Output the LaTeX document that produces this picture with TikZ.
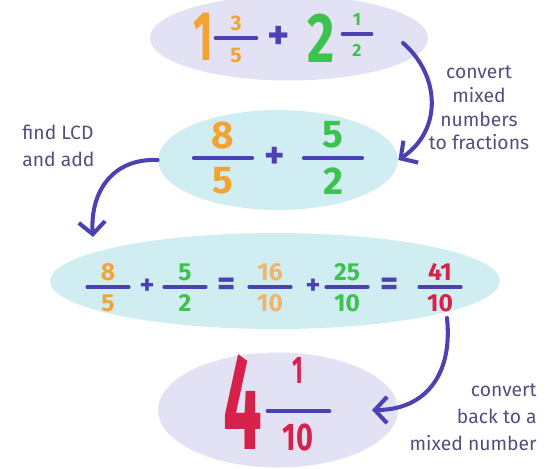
\documentclass[tikz,border=0pt]{standalone}
\usepackage{fontspec}
\setmainfont{Fira Sans}
\usepackage{graphicx}
\usetikzlibrary{arrows.meta,positioning,shapes.geometric}
\definecolor{lav}{HTML}{E3E1F4}
\definecolor{aqua}{HTML}{D0EDF1}
\definecolor{orng}{HTML}{F6A233}
\definecolor{grn}{HTML}{3DC24F}
\definecolor{pale}{HTML}{EFB56A}
\definecolor{crim}{HTML}{D6214B}
\definecolor{ink}{HTML}{4B41B3}
\definecolor{notec}{HTML}{574D7D}

\begin{document}
\begin{tikzpicture}[
  x=0.02cm, y=-0.02cm,
  blob/.style={ellipse, inner sep=0pt},
  dig/.style={inner sep=0pt},
  bar/.style={draw=ink, line cap=round},
  conn/.style={draw=ink, line width=2.3pt, line cap=round, -{Straight Barb[length=7pt,width=15pt]}},
  note/.style={text=notec, inner sep=0pt, font=\fontsize{11}{15.5}\selectfont}
]
  \useasboundingbox (0,0) rectangle (550,468);

  % bubbles
  \node[blob, fill=lav, minimum width=5.56cm, minimum height=1.7cm] (top) at (289,38) {};
  \node[blob, fill=aqua, minimum width=4.8cm, minimum height=2cm] (mid) at (278,160) {};
  \node[blob, fill=aqua, minimum width=9cm, minimum height=1.92cm] (row) at (275,281) {};
  \node[blob, fill=lav, minimum width=4.8cm, minimum height=2.3cm] (res) at (278,410) {};

  % 1 3/5 + 2 1/2
  \node[dig, text=orng, font=\bfseries\fontsize{40}{40}\selectfont] (one) at (203,37) {\scalebox{.6}[1]{1}};
  \node[dig, text=orng, font=\bfseries\fontsize{12}{12}\selectfont] (three) at (236,23) {3};
  \node[dig, text=orng, font=\bfseries\fontsize{12}{12}\selectfont] (five) at (236,56) {5};
  \draw[bar, line width=2.8pt] (216,38) -- (256,38);
  \node[dig, text=ink, font=\bfseries\fontsize{24}{24}\selectfont] (plusa) at (279,38) {+};
  \node[dig, text=grn, font=\bfseries\fontsize{40}{40}\selectfont] (two) at (321,38) {\scalebox{.75}[1]{2}};
  \node[dig, text=grn, font=\bfseries\fontsize{10}{10}\selectfont] (half) at (357,20) {1};
  \node[dig, text=grn, font=\bfseries\fontsize{10}{10}\selectfont] (halfd) at (357,50) {2};
  \draw[bar, line width=2.8pt] (343,34) -- (371,34);

  % 8/5 + 5/2
  \node[dig, text=orng, font=\bfseries\fontsize{22}{22}\selectfont] (eight) at (223,135) {8};
  \node[dig, text=orng, font=\bfseries\fontsize{22}{22}\selectfont] (fiveb) at (223,181) {5};
  \draw[bar, line width=2.4pt] (194,158) -- (252,158);
  \node[dig, text=ink, font=\bfseries\fontsize{22}{22}\selectfont] (plusb) at (275,158) {+};
  \node[dig, text=grn, font=\bfseries\fontsize{22}{22}\selectfont] (fivec) at (333,135) {5};
  \node[dig, text=grn, font=\bfseries\fontsize{22}{22}\selectfont] (twob) at (333,181) {2};
  \draw[bar, line width=2.4pt] (304,158) -- (362,158);

  % 8/5 + 5/2 = 16/10 + 25/10 = 41/10
  \foreach \x/\n/\d/\c/\k in {108/8/5/orng/a, 185/5/2/grn/b, 270/16/10/pale/c, 347/25/10/grn/d, 440/41/10/crim/e}{
    \node[dig, text=\c, font=\bfseries\fontsize{14}{14}\selectfont] (n\k) at (\x,272) {\n};
    \node[dig, text=\c, font=\bfseries\fontsize{14}{14}\selectfont] (d\k) at (\x,303) {\d};
    \draw[bar, line width=1.8pt] (\x-21,287) -- (\x+21,287);
  }
  \node[dig, text=ink, font=\bfseries\fontsize{16}{16}\selectfont] (op1) at (147,287) {+};
  \node[dig, text=ink, font=\bfseries\fontsize{20}{20}\selectfont] (op2) at (227,287) {=};
  \node[dig, text=ink, font=\bfseries\fontsize{16}{16}\selectfont] (op3) at (313,287) {+};
  \node[dig, text=ink, font=\bfseries\fontsize{20}{20}\selectfont] (op4) at (390,287) {=};

  % 4 1/10
  \node[dig, text=crim, font=\bfseries\fontsize{78}{78}\selectfont] (four) at (243,402) {\scalebox{.5}[1]{4}};
  \node[dig, text=crim, font=\bfseries\fontsize{22}{22}\selectfont] (onec) at (298,370) {\scalebox{.6}[1]{1}};
  \node[dig, text=crim, font=\bfseries\fontsize{22}{22}\selectfont] (ten) at (298,437) {\scalebox{.75}[1]{10}};
  \draw[bar, line width=2.8pt] (268,411) -- (329,411);

  % notes
  \node[note, align=center, font=\fontsize{11}{13.4}\selectfont] (conv) at (479,108) {convert\\mixed\\numbers\\to fractions};
  \node[note, align=left, anchor=west] (lcd) at (22,146) {find LCD\\and add};
  \node[note, align=right, anchor=east] (back) at (537,417) {convert\\back to a\\mixed number};

  % arrows
  \coordinate (convtail) at (403,43);
  \coordinate (lcdtip) at (93,237);
  \coordinate (backtail) at (447,318);
  \coordinate (backtip) at (372,410);
  \draw[conn] (convtail) .. controls (440,75) and (443,130) .. (mid.east);
  \draw[conn] (mid.west) .. controls (110,158) and (90,195) .. (lcdtip);
  \draw[conn] (backtail) .. controls (453,375) and (425,410) .. (backtip);
\end{tikzpicture}
\end{document}
